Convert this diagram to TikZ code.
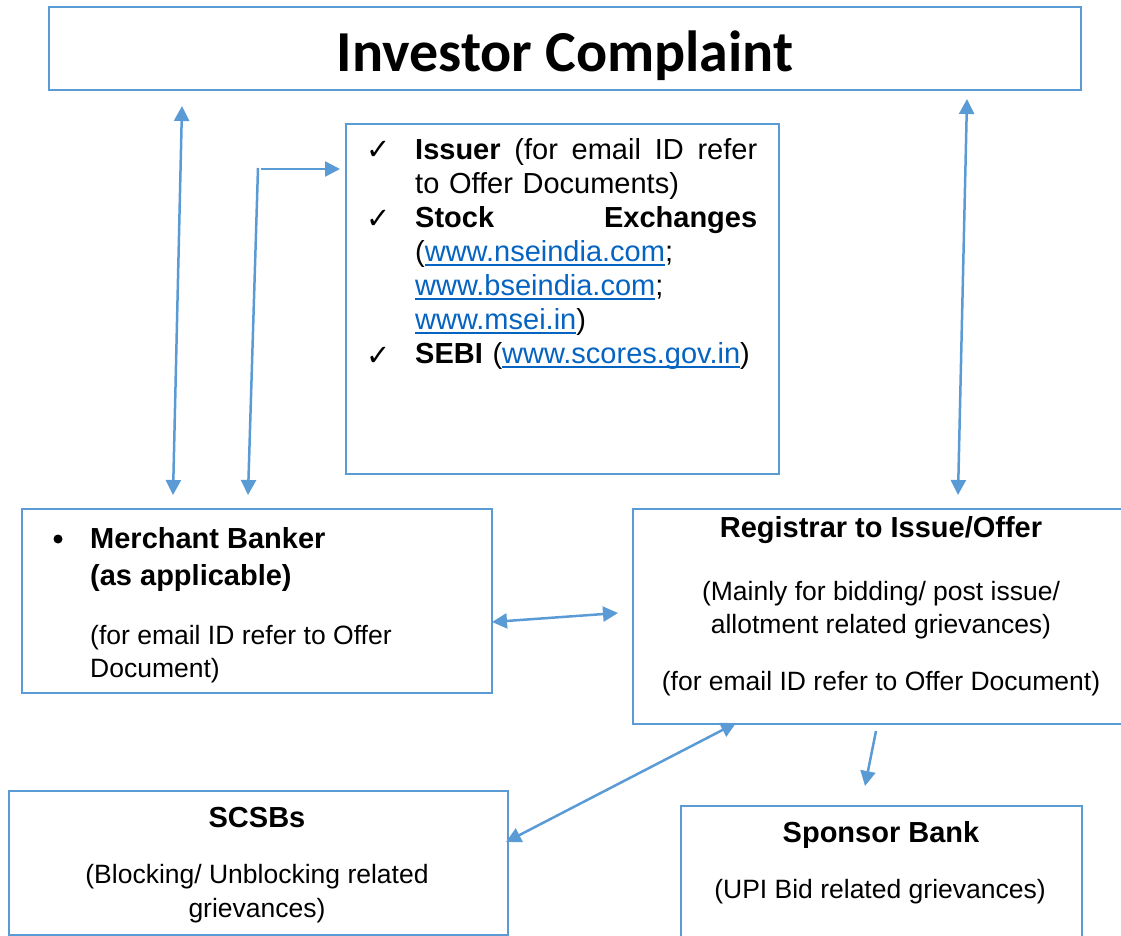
\documentclass[tikz,border=0pt]{standalone}
\usepackage{fontspec}
\setmainfont{Liberation Sans}
\newfontfamily\titlefont{Carlito}
\newfontfamily\symbolfont{DejaVu Sans}
\usetikzlibrary{arrows.meta,calc}
\definecolor{boxblue}{HTML}{5B9BD5}
\definecolor{linkblue}{HTML}{0563C1}
\newcommand{\weblink}[1]{\leavevmode{\color{linkblue}\setbox0=\hbox{#1}\rlap{\rule[-4pt]{\wd0}{1.8pt}}\box0}}
\newcommand{\spreadline}[1]{\leavevmode\hbox to 342pt{#1}}
\tikzset{
  box/.style = {draw=boxblue, line width=2pt, inner sep=0pt,
                anchor=north west},
  dot/.style = {circle, fill, minimum size=#1,
                inner sep=0pt, outer sep=0pt},
  dot/.default = 9pt,
  head/.style = {font=\bfseries\fontsize{29}{37}\selectfont,
                 inner sep=0pt, align=center, anchor=base},
  body/.style = {font=\fontsize{26.5}{33}\selectfont,
                 inner sep=0pt, align=center, anchor=base},
  tick/.style = {font=\symbolfont\fontsize{29}{29}\selectfont,
                 inner sep=0pt, anchor=base west},
  oneway/.style = {draw=boxblue, line width=2.5pt,
                   -{Triangle[length=15pt,width=15pt]}},
  twoway/.style = {draw=boxblue, line width=2.5pt,
                   {Triangle[length=15pt,width=15pt]}-{Triangle[length=15pt,width=15pt]}}
}
\begin{document}
\begin{tikzpicture}[x=1pt,y=-1pt]
	\useasboundingbox (0,0) rectangle (1121,936);
	\clip (0,0) rectangle (1121,936);
	
	% Boxes
	\node[box, minimum width=1032pt, minimum height=83pt]  (invest)    at (48,6)    {};
	\node[box, minimum width=433pt,  minimum height=350pt] (channels)  at (345,123)  {};
	\node[box, minimum width=470pt,  minimum height=184pt] (merchant)  at (21,508)  {};
	\node[box, minimum width=520pt,  minimum height=215pt] (registrar) at (632,508) {};
	\node[box, minimum width=499pt,  minimum height=144pt] (scsb)      at (8,790)   {};
	\node[box, minimum width=401pt,  minimum height=160pt] (sponsor)   at (680,805) {};
	
	% Title
	\node[font=\titlefont\bfseries\fontsize{58}{58}\selectfont, inner sep=0pt, anchor=base] (title) at (565,72) {Investor Complaint};
	
	% Complaint channels
	\node[tick] (tickA) at (366,160) {✓};
	\node[tick] (tickB) at (366,228) {✓};
	\node[tick] (tickC) at (366,365) {✓};
	\node[font=\fontsize{29}{34}\selectfont, inner sep=0pt, text width=342pt, align=left, anchor=base west] (chanText) at (415,160)
	  {\spreadline{\textbf{Issuer}\hfill(for\hfill email\hfill ID\hfill refer}\\
	   to Offer Documents)\\
	   \spreadline{\textbf{Stock}\hfill\textbf{Exchanges}}\\
	   (\weblink{www.nseindia.com};\\
	   \weblink{www.bseindia.com};\\
	   \weblink{www.msei.in})\\
	   \textbf{SEBI} (\weblink{www.scores.gov.in})};
	
	% Merchant Banker
	\node[dot] (mbBullet) at (58,539) {};
	\node[head, align=left, anchor=base west] (mbHead) at (90,585) {Merchant Banker\\(as applicable)};
	\node[body, align=left, anchor=base west] (mbBody) at (90,677) {(for email ID refer to Offer\\Document)};
	
	% Registrar
	\node[head] (rtaHead) at (881,537) {Registrar to Issue/Offer};
	\node[body] (rtaBody) at (881,633) {(Mainly for bidding/ post issue/\\allotment related grievances)};
	\node[body] (rtaMail) at (881,690) {(for email ID refer to Offer Document)};
	
	% SCSBs
	\node[head] (scsbHead) at (257,827) {SCSBs};
	\node[body, font=\fontsize{26.5}{34}\selectfont] (scsbBody) at (257,917) {(Blocking/ Unblocking related\\grievances)};
	
	% Sponsor Bank
	\node[head] (spHead) at (881,842) {Sponsor Bank};
	\node[body] (spBody) at (880,898) {(UPI Bid related grievances)};
	
	% Arrow ends
	\coordinate (icLeft)   at (182,106);
	\coordinate (mbLeft)   at (173,495);
	\coordinate (knee)     at (258,168);
	\coordinate (kneeR)    at (261,169);
	\coordinate (chanIn)   at (340,169);
	\coordinate (mbRight)  at (248,495);
	\coordinate (icRight)  at (967,99);
	\coordinate (rtaTop)   at (958,495);
	\coordinate (mbSide)   at (492,622);
	\coordinate (rtaSide)  at (618,613);
	\coordinate (rtaLow)   at (736,723);
	\coordinate (scsbSide) at (506,842);
	\coordinate (rtaOut)   at (876,731);
	\coordinate (spTop)    at (865,786);
	
	% Arrows
	\draw[twoway] (icLeft) -- (mbLeft);
	\draw[oneway] (knee) -- (mbRight);
	\draw[oneway] (kneeR) -- (chanIn);
	\draw[twoway] (icRight) -- (rtaTop);
	\draw[twoway] (mbSide) -- (rtaSide);
	\draw[twoway] (rtaLow) -- (scsbSide);
	\draw[oneway] (rtaOut) -- (spTop);
	
\end{tikzpicture}
\end{document}
